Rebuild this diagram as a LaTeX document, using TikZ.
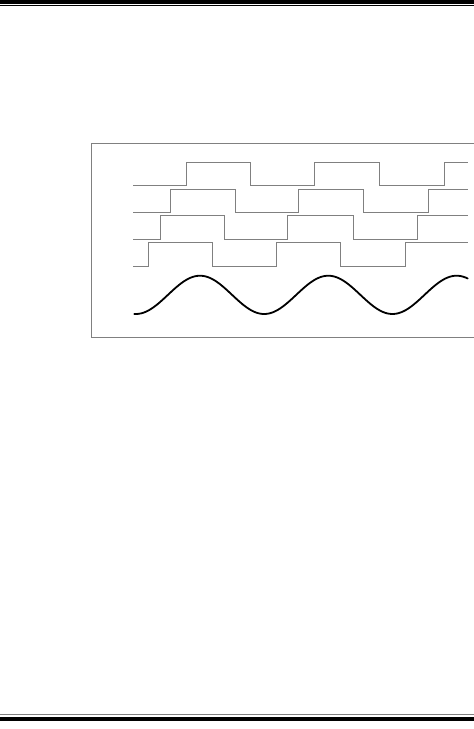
\documentclass[tikz,border=0pt]{standalone}
\usepackage{tikz}

\begin{document}
\begin{tikzpicture}[x=1pt,y=-1pt,
    squarewave/.style={draw=gray,line width=0.9pt},
    sinewave/.style={draw=black,line width=1.8pt,line cap=round}]
    \useasboundingbox (0,0) rectangle (474,729);
    % page rules
    \fill (0,0) rectangle (474,3.8);
    \draw[line width=0.8pt] (0,5.4) -- (474,5.4);
    \draw[line width=0.9pt,gray] (0,714.5) -- (474,714.5);
    \fill (0,717.3) rectangle (474,720.7);
    % frame
    \draw[gray,line width=0.8pt] (474,143) -| (91,337.7) -- (474,337.7);
    % square waves
    \draw[squarewave] (133.3,185.7) -| (186.3,162.3) -| (250.7,185.7) -| (314.7,162.3) -| (379.3,185.7) -| (444,162.3) -- (467.7,162.3);
    \draw[squarewave] (133.3,212.3) -| (170.7,189) -| (235.3,212.3) -| (298.3,189) -| (363.7,212.3) -| (428.7,189) -- (467.7,189);
    \draw[squarewave] (133.3,239) -| (160,215.7) -| (224.3,239) -| (287.7,215.7) -| (353,239) -| (417.7,215.7) -- (467.7,215.7);
    \draw[squarewave] (133.3,266) -| (148,242.7) -| (212.7,266) -| (276,242.7) -| (340.7,266) -| (405.7,242.7) -- (467.7,242.7);
    % sine
    \draw[sinewave] plot[domain=134.3:467.7,samples=150,smooth] (\x,{294.85-19.15*cos(2.806*(\x-200))});
\end{tikzpicture}
\end{document}
